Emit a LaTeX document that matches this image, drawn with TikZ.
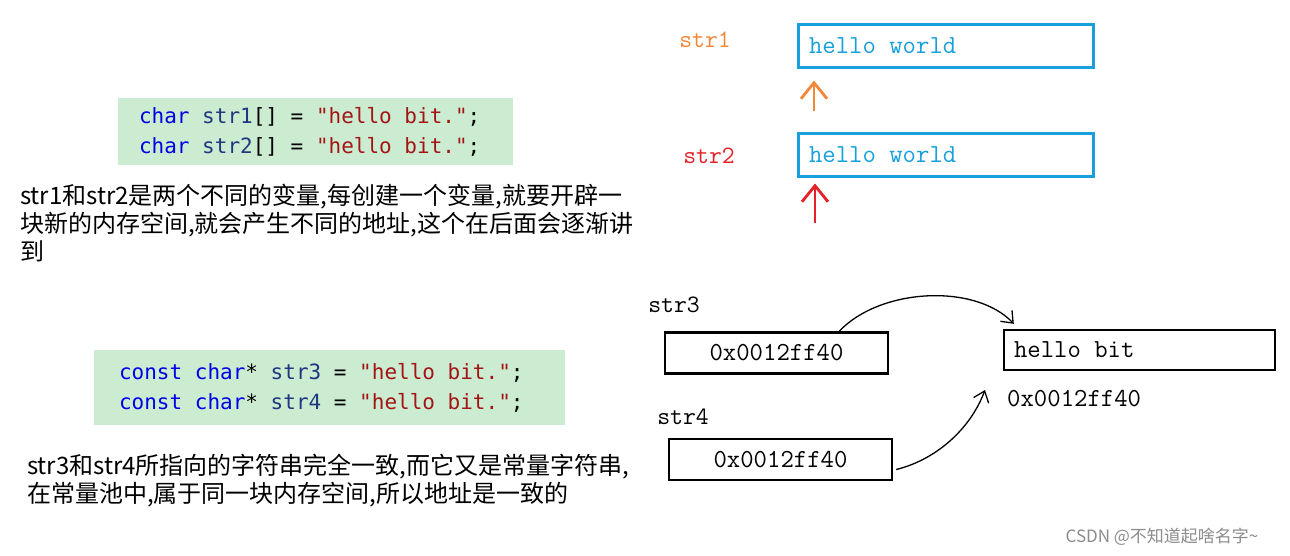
\documentclass[tikz,border=0pt]{standalone}
\usepackage{fontspec}
\newfontfamily\codefont{DejaVu Sans Mono}
\newfontfamily\cjk{Noto Sans CJK SC}
\usepackage{xcolor}
\usetikzlibrary{arrows.meta, positioning}

\definecolor{codebg}{RGB}{204,236,210}
\definecolor{kwblue}{RGB}{0,0,230}
\definecolor{idblue}{RGB}{31,55,127}
\definecolor{strred}{RGB}{163,21,21}
\definecolor{cellblue}{RGB}{24,160,220}
\definecolor{orangeink}{RGB}{242,135,55}
\definecolor{redink}{RGB}{228,32,40}

\newcommand\kw[1]{\textcolor{kwblue}{#1}}
\newcommand\idn[1]{\textcolor{idblue}{#1}}
\newcommand\strlit[1]{\textcolor{strred}{#1}}

\tikzset{
  fullspace/.style={execute at begin node={\spaceskip=0pt \xspaceskip=0pt\relax}},
  codebox/.style={fill=codebg, align=left, inner ysep=0pt, fullspace,
    font=\codefont\fontsize{21}{30}\selectfont},
  note/.style={anchor=north west, inner sep=0pt, align=left,
    font=\cjk\fontsize{24}{28}\selectfont},
  cellblue/.style={draw=cellblue, line width=3pt, minimum width=295pt,
    minimum height=43pt, text width=273pt, inner xsep=11pt, align=left, fullspace,
    text=cellblue, font=\ttfamily\fontsize{26}{26}\selectfont},
  cell/.style={draw, line width=2.4pt, minimum height=41pt,
    font=\ttfamily\fontsize{26}{26}\selectfont},
  varname/.style={font=\ttfamily\fontsize{25}{25}\selectfont},
  handarrow/.style={line width=2.8pt, -{Straight Barb[length=16pt,width=26pt]}},
  pointer/.style={line width=1.3pt, -{Straight Barb[length=10pt,width=16pt]}}
}

\begin{document}
\begin{tikzpicture}[x=1pt,y=-1pt]
  \useasboundingbox[fill=white] (0,0) rectangle (1290,555);

  % left column: code and notes
  \node[codebox, text width=353pt, inner xsep=21pt, minimum height=67pt] (code1) at (315.5,131.5)
    {\kw{char} \idn{str1}[] = \strlit{"hello bit."};\\\kw{char} \idn{str2}[] = \strlit{"hello bit."};};
  \node[note] (note1) at (20,184)
    {str1和str2是两个不同的变量,每创建一个变量,就要开辟一\\块新的内存空间,就会产生不同的地址,这个在后面会逐渐讲\\到};

  \node[codebox, text width=421pt, inner xsep=25pt, minimum height=75pt] (code2) at (329.5,387.5)
    {\kw{const} \kw{char}* \idn{str3} = \strlit{"hello bit."};\\\kw{const} \kw{char}* \idn{str4} = \strlit{"hello bit."};};
  \node[note] (note2) at (27,454)
    {str3和str4所指向的字符串完全一致,而它又是常量字符串,\\在常量池中,属于同一块内存空间,所以地址是一致的};

  % arrays
  \node[cellblue] (b1) at (945.5,45.5) {hello world};
  \node[cellblue] (b2) at (945.5,154.5) {hello world};
  \node[varname, text=orangeink] (s1) at (705,40) {str1};
  \node[varname, text=redink] (s2) at (709,156) {str2};
  \coordinate (t1) at (814,111);
  \coordinate (t2) at (815,223);
  \draw[handarrow, orangeink, shorten >=12pt] (t1) -- (t1 |- b1.south);
  \draw[handarrow, redink, shorten >=6pt] (t2) -- (t2 |- b2.south);

  % pointers
  \node[cell, minimum width=223pt] (b3) at (776.5,353) {0x0012ff40};
  \node[cell, minimum width=223pt] (b4) at (780.5,459.5) {0x0012ff40};
  \node[cell, minimum width=271pt, text width=251pt, inner xsep=10pt, align=left, fullspace,
    minimum height=40pt] (b5) at (1139.5,350) {hello bit};
  \node[varname] (s3) at (674,305) {str3};
  \node[varname] (s4) at (683,417) {str4};
  \node[cell, draw=none, anchor=west, inner xsep=0pt] (addr) at (1006,399) {0x0012ff40};

  \draw[pointer] ([xshift=-50pt]b3.north east) .. controls (880,288) and (975,283) .. ([xshift=11pt,yshift=5pt]b5.north west);
  \draw[pointer] ([xshift=3pt,yshift=-10pt]b4.east) .. controls (935,460) and (970,430) .. (985,390);

  \node[font=\cjk\fontsize{17}{17}\selectfont, text=black!45] (mark) at (1162,537) {CSDN @不知道起啥名字\textasciitilde};
\end{tikzpicture}
\end{document}
